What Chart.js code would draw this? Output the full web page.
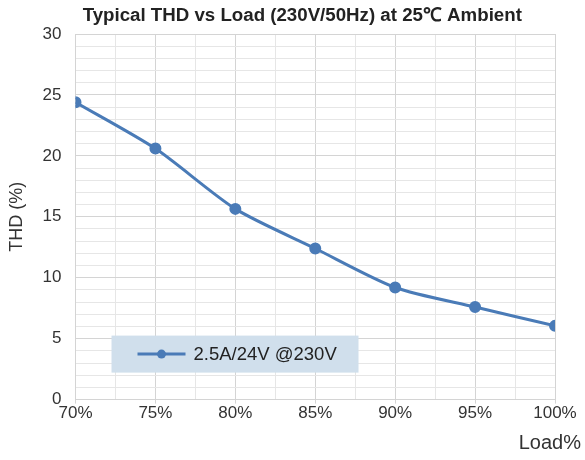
<!DOCTYPE html>
<html>
<head>
<meta charset="utf-8">
<script src="https://cdn.jsdelivr.net/npm/chart.js@4"></script>
<style>
  html, body { margin: 0; padding: 0; background: #ffffff; }
  #wrap { width: 585px; height: 460px; }
</style>
</head>
<body>
<div id="wrap"><canvas id="thdChart" width="585" height="460"></canvas></div>
<script>
// ===========================================
// DATA
// ===========================================

const loadPct = [70, 75, 80, 85, 90, 95, 100];
const thdValues = [24.4, 20.6, 15.65, 12.4, 9.2, 7.6, 6.05];
const seriesName = "2.5A/24V @230V";
const chartTitle = "Typical THD vs Load (230V/50Hz) at 25\u2103 Ambient";
const xAxisTitle = "Load%";
const yAxisTitle = "THD (%)";

const FONT = "'Liberation Sans', Arial, sans-serif";
const LINE_COLOR = "#4a7bb7";

// ===========================================
// TITLE, LEGEND BOX (inside plot area), X TITLE
// ===========================================

const overlayText = {
  id: "overlayText",
  afterDatasetsDraw(chart) {
    const { ctx, chartArea } = chart;
    const x0 = chartArea.left + 36;
    const y0 = chartArea.bottom - 64;
    const w = 247, h = 37;

    ctx.save();

    // legend box
    ctx.fillStyle = "#d0dfec";
    ctx.fillRect(x0, y0, w, h);

    const my = y0 + h / 2;
    ctx.strokeStyle = LINE_COLOR;
    ctx.lineWidth = 3;
    ctx.beginPath();
    ctx.moveTo(x0 + 26, my);
    ctx.lineTo(x0 + 74, my);
    ctx.stroke();

    ctx.fillStyle = LINE_COLOR;
    ctx.beginPath();
    ctx.arc(x0 + 50, my, 4.5, 0, Math.PI * 2);
    ctx.fill();

    ctx.fillStyle = "#222222";
    ctx.font = "18.5px " + FONT;
    ctx.textBaseline = "middle";
    ctx.textAlign = "left";
    ctx.fillText(seriesName, x0 + 82, my + 1);

    // x axis title, right aligned past the last tick label
    ctx.fillStyle = "#333333";
    ctx.font = "20px " + FONT;
    ctx.textAlign = "right";
    ctx.fillText(xAxisTitle, chartArea.right + 26, chartArea.bottom + 44);

    // chart title
    ctx.fillStyle = "#222222";
    ctx.font = "bold 18.7px " + FONT;
    ctx.textAlign = "center";
    ctx.fillText(chartTitle, (chartArea.left + chartArea.right) / 2 - 13, chartArea.top - 18);

    ctx.restore();
  }
};

// ===========================================
// CHART
// ===========================================

new Chart(document.getElementById("thdChart"), {
  type: "line",
  data: {
    datasets: [{
      label: seriesName,
      data: loadPct.map((x, i) => ({ x: x, y: thdValues[i] })),
      borderColor: LINE_COLOR,
      backgroundColor: LINE_COLOR,
      borderWidth: 3,
      pointRadius: 4.5,
      pointHoverRadius: 4.5,
      tension: 0.25,
      fill: false
    }]
  },
  options: {
    responsive: false,
    animation: false,
    layout: { padding: { left: 6, right: 30, top: 34, bottom: 36 } },
    plugins: {
      legend: { display: false },
      tooltip: { enabled: false },
      title: { display: false }
    },
    scales: {
      x: {
        type: "linear",
        min: 70,
        max: 100,
        ticks: {
          stepSize: 2.5,
          autoSkip: false,
          maxRotation: 0,
          color: "#333333",
          font: { family: FONT, size: 17 },
          padding: 0,
          callback: (v) => (v % 5 === 0 ? v + "%" : "")
        },
        grid: {
          color: (c) => (c.tick && c.tick.value % 5 === 0 ? "#d4d4d4" : "#e6e6e6"),
          tickColor: (c) => (c.tick && c.tick.value % 5 === 0 ? "#d4d4d4" : "rgba(0,0,0,0)"),
          tickLength: 4,
          lineWidth: 1
        },
        border: { color: "#d4d4d4" }
      },
      y: {
        min: 0,
        max: 30,
        ticks: {
          stepSize: 1,
          autoSkip: false,
          color: "#333333",
          font: { family: FONT, size: 17 },
          padding: 14,
          callback: (v) => (v % 5 === 0 ? v : "")
        },
        grid: {
          color: (c) => (c.tick && c.tick.value % 5 === 0 ? "#d4d4d4" : "#e6e6e6"),
          drawTicks: false,
          lineWidth: 1
        },
        border: { color: "#d4d4d4" },
        title: {
          display: true,
          text: yAxisTitle,
          color: "#333333",
          font: { family: FONT, size: 18 },
          padding: { top: 0, bottom: 1 }
        }
      }
    }
  },
  plugins: [overlayText]
});
</script>
</body>
</html>
